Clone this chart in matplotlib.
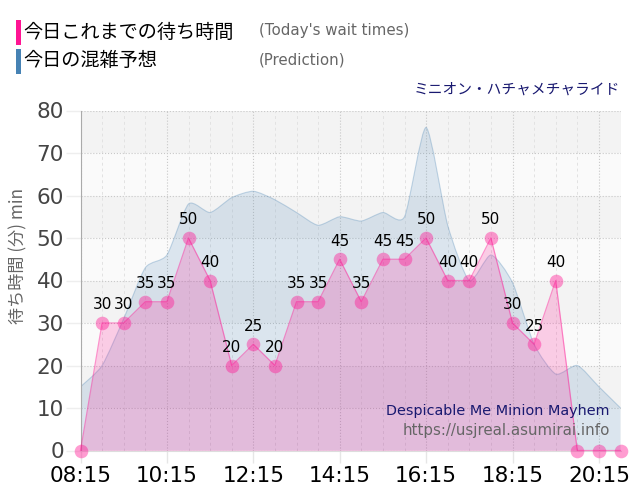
import matplotlib
matplotlib.use("Agg")
import matplotlib.pyplot as plt
from matplotlib.patches import PathPatch, Rectangle
from matplotlib.path import Path

W, H = 640, 500
CJK = ['Noto Sans CJK JP', 'DejaVu Sans']
LATIN = 'DejaVu Sans'

slots = list(range(26))  # 30 minute steps from 08:15
wait_times = [0, 30, 30, 35, 35, 50, 40, 20, 25, 20, 35, 35, 45,
              35, 45, 45, 50, 40, 40, 50, 30, 25, 40, 0, 0, 0]
prediction = [15, 20, 31, 43, 46, 58, 56, 59.5, 61, 59, 56, 53, 55,
              54, 56, 55, 76, 53, 40, 46, 39.5, 25, 18, 20, 15, 10]
x_major = [0, 4, 8, 12, 16, 20, 24]
x_labels = ['08:15', '10:15', '12:15', '14:15', '16:15', '18:15', '20:15']
y_ticks = [0, 10, 20, 30, 40, 50, 60, 70, 80]

PINK = '#ff1493'
BLUE = '#4682b4'


def spline_path(xs, ys, k=9.0):
    # low tension bezier through the points, k sets how flat the control arms are
    line_verts = [(xs[0], ys[0])]
    line_codes = [Path.MOVETO]
    n = len(xs)
    for i in range(1, n):
        p0 = i - 2 if i > 1 else i - 1
        p3 = i + 1 if i < n - 1 else i
        c1 = (xs[i-1] + (xs[i] - xs[p0]) / k, ys[i-1] + (ys[i] - ys[p0]) / k)
        c2 = (xs[i] - (xs[p3] - xs[i-1]) / k, ys[i] - (ys[p3] - ys[i-1]) / k)
        for v in (c1, c2, (xs[i], ys[i])):
            line_verts.append(v)
            line_codes.append(Path.CURVE4)
    verts = line_verts + [(xs[-1], 0), (xs[0], 0), (xs[0], ys[0])]
    codes = line_codes + [Path.LINETO, Path.LINETO, Path.LINETO]
    return Path(verts, codes), Path(line_verts, line_codes)


def px_text(x, y, s, family=LATIN, **kw):
    return fig.text(x / W, 1 - y / H, s, family=family, **kw)


fig = plt.figure(figsize=(W / 100, H / 100), dpi=100)
ax = fig.add_axes([80.5 / W, 1 - 450.5 / H, 540 / W, 340 / H])
ax.set_xlim(0, 25)
ax.set_ylim(0, 80)

# alternating bands
for lo in range(0, 80, 10):
    ax.axhspan(lo, lo + 10, color='#f3f3f3' if lo % 20 == 10 else '#fafafa', lw=0, zorder=0)

# grid
ax.set_xticks(x_major)
ax.set_xticks(slots, minor=True)
ax.set_yticks(y_ticks)
ax.set_xticklabels(x_labels, fontsize=15.5, color='black', family=LATIN)
ax.set_yticklabels(y_ticks, fontsize=15.5, color='#444444', family=LATIN)
ax.grid(True, which='major', color='#c8c8c8', lw=0.8, ls=':', zorder=1)
ax.grid(True, which='minor', axis='x', color='#e2e2e2', lw=0.7, ls=(0, (3, 3)), zorder=1)
ax.tick_params(axis='y', length=11, width=1, color='#eeeeee', pad=1)
ax.tick_params(axis='x', which='major', length=8.5, width=1, color='#e6e6e6', pad=3)
ax.tick_params(axis='x', which='minor', length=0)
for side in ['top', 'right']:
    ax.spines[side].set_visible(False)
ax.spines['left'].set_color('#aaaaaa')
ax.spines['bottom'].set_color('#dddddd')
ax.set_axisbelow(True)

# prediction area
pred_area, pred_line = spline_path(slots, prediction)
ax.add_patch(PathPatch(pred_area, fc=BLUE, ec='none', alpha=0.17, zorder=2))
ax.add_patch(PathPatch(pred_line, fc='none', ec=BLUE, lw=0.8, alpha=0.3, zorder=2))

# actual wait times
ax.fill_between(slots, wait_times, 0, color=PINK, alpha=0.2, lw=0, zorder=3)
ax.plot(slots, wait_times, color=PINK, lw=0.9, alpha=0.45, zorder=4, clip_on=False)
ax.plot(slots, wait_times, ls='none', marker='o', ms=9.8, mfc=PINK, mec='none',
        alpha=0.42, zorder=5, clip_on=False)

for x, v in zip(slots, wait_times):
    if v > 0:
        ax.annotate(str(v), (x, v), xytext=(0, 13), textcoords='offset points',
                    ha='center', va='center', fontsize=11, color='black',
                    family=LATIN, zorder=6)

px_text(610, 411, 'Despicable Me Minion Mayhem', ha='right', va='center',
        fontsize=10.4, color='#191970', zorder=7)
px_text(610, 431, 'https://usjreal.asumirai.info', ha='right', va='center',
        fontsize=10.8, color='#666666', zorder=7)

# legend and titles
fig.add_artist(Rectangle((16 / W, 1 - 45 / H), 5 / W, 25 / H, fc=PINK, ec='none',
                         transform=fig.transFigure))
fig.add_artist(Rectangle((16 / W, 1 - 74 / H), 5 / W, 25 / H, fc=BLUE, ec='none',
                         transform=fig.transFigure))
px_text(23, 32, '今日これまでの待ち時間', family=CJK, ha='left', va='center', fontsize=13.8, color='black')
px_text(23, 61, '今日の混雑予想', family=CJK, ha='left', va='center', fontsize=13.8, color='black')
px_text(259, 31, "(Today's wait times)", ha='left', va='center', fontsize=10.8, color='#666666')
px_text(259, 60, '(Prediction)', ha='left', va='center', fontsize=10.8, color='#666666')
px_text(620, 90, 'ミニオン・ハチャメチャライド', family=CJK, ha='right', va='center', fontsize=10.6, color='#191970')
px_text(18, 256, '待ち時間 (分) min', family=CJK, ha='center', va='center', rotation=90,
        fontsize=12.3, color='#666666')

fig.savefig('out.png', dpi=100)
